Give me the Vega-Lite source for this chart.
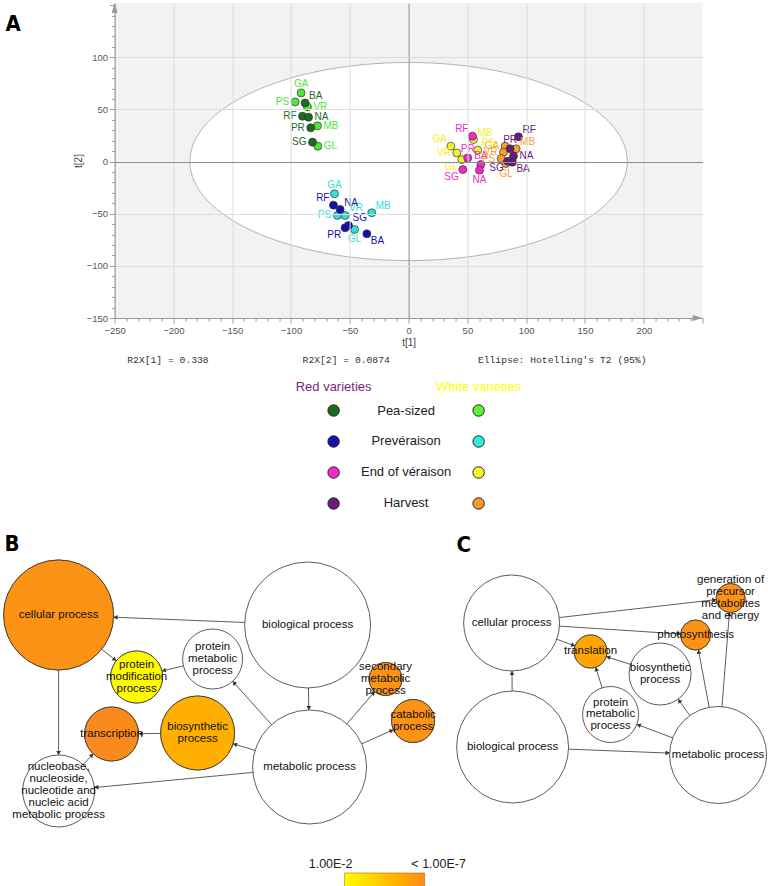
{
  "$schema": "https://vega.github.io/schema/vega-lite/v6.json",
  "autosize": {"type": "pad"},
  "padding": {"left": 1.6, "top": 0, "right": 0, "bottom": 0},
  "background": "white",
  "config": {"view": {"stroke": null}, "font": "Liberation Sans"},
  "datasets": {
    "scores": [
      {"variety": "GA", "type": "white", "stage": "Pea-sized", "group": "Pea-sized white", "t1": -91.4, "t2": 65.8, "pos": "t"},
      {"variety": "PS", "type": "white", "stage": "Pea-sized", "group": "Pea-sized white", "t1": -96.5, "t2": 57.2, "pos": "l"},
      {"variety": "VR", "type": "white", "stage": "Pea-sized", "group": "Pea-sized white", "t1": -86.0, "t2": 52.4, "pos": "r"},
      {"variety": "MB", "type": "white", "stage": "Pea-sized", "group": "Pea-sized white", "t1": -77.5, "t2": 34.2, "pos": "r"},
      {"variety": "GL", "type": "white", "stage": "Pea-sized", "group": "Pea-sized white", "t1": -77.2, "t2": 14.7, "pos": "r"},
      {"variety": "BA", "type": "red", "stage": "Pea-sized", "group": "Pea-sized red", "t1": -88.0, "t2": 56.2, "pos": "tr"},
      {"variety": "RF", "type": "red", "stage": "Pea-sized", "group": "Pea-sized red", "t1": -90.2, "t2": 43.5, "pos": "l"},
      {"variety": "NA", "type": "red", "stage": "Pea-sized", "group": "Pea-sized red", "t1": -85.1, "t2": 42.5, "pos": "r"},
      {"variety": "PR", "type": "red", "stage": "Pea-sized", "group": "Pea-sized red", "t1": -83.2, "t2": 32.3, "pos": "l"},
      {"variety": "SG", "type": "red", "stage": "Pea-sized", "group": "Pea-sized red", "t1": -81.7, "t2": 18.6, "pos": "l"},
      {"variety": "GA", "type": "white", "stage": "Prevéraison", "group": "Prevéraison white", "t1": -63.0, "t2": -30.9, "pos": "t"},
      {"variety": "VR", "type": "white", "stage": "Prevéraison", "group": "Prevéraison white", "t1": -54.0, "t2": -51.7, "pos": "tr"},
      {"variety": "PS", "type": "white", "stage": "Prevéraison", "group": "Prevéraison white", "t1": -60.5, "t2": -51.7, "pos": "l"},
      {"variety": "MB", "type": "white", "stage": "Prevéraison", "group": "Prevéraison white", "t1": -31.3, "t2": -49.1, "pos": "tr"},
      {"variety": "GL", "type": "white", "stage": "Prevéraison", "group": "Prevéraison white", "t1": -46.0, "t2": -65.1, "pos": "b"},
      {"variety": "RF", "type": "red", "stage": "Prevéraison", "group": "Prevéraison red", "t1": -63.9, "t2": -41.8, "pos": "tl"},
      {"variety": "NA", "type": "red", "stage": "Prevéraison", "group": "Prevéraison red", "t1": -58.2, "t2": -46.0, "pos": "tr"},
      {"variety": "SG", "type": "red", "stage": "Prevéraison", "group": "Prevéraison red", "t1": -51.1, "t2": -61.3, "pos": "tr"},
      {"variety": "PR", "type": "red", "stage": "Prevéraison", "group": "Prevéraison red", "t1": -54.0, "t2": -63.5, "pos": "bl"},
      {"variety": "BA", "type": "red", "stage": "Prevéraison", "group": "Prevéraison red", "t1": -35.5, "t2": -69.3, "pos": "br"},
      {"variety": "GA", "type": "white", "stage": "End of véraison", "group": "End of véraison white", "t1": 35.9, "t2": 14.7, "pos": "tl"},
      {"variety": "VR", "type": "white", "stage": "End of véraison", "group": "End of véraison white", "t1": 41.0, "t2": 8.3, "pos": "l"},
      {"variety": "GL", "type": "white", "stage": "End of véraison", "group": "End of véraison white", "t1": 45.2, "t2": 1.9, "pos": "bl"},
      {"variety": "MB", "type": "white", "stage": "End of véraison", "group": "End of véraison white", "t1": 55.2, "t2": 21.1, "pos": "tr"},
      {"variety": "PS", "type": "white", "stage": "End of véraison", "group": "End of véraison white", "t1": 58.8, "t2": 10.9, "pos": "tr"},
      {"variety": "RF", "type": "red", "stage": "End of véraison", "group": "End of véraison red", "t1": 54.3, "t2": 24.3, "pos": "tl"},
      {"variety": "PR", "type": "red", "stage": "End of véraison", "group": "End of véraison red", "t1": 50.3, "t2": 3.5, "pos": "t"},
      {"variety": "BA", "type": "red", "stage": "End of véraison", "group": "End of véraison red", "t1": 61.4, "t2": -2.9, "pos": "t"},
      {"variety": "NA", "type": "red", "stage": "End of véraison", "group": "End of véraison red", "t1": 60.3, "t2": -8.3, "pos": "b"},
      {"variety": "SG", "type": "red", "stage": "End of véraison", "group": "End of véraison red", "t1": 46.1, "t2": -7.7, "pos": "bl"},
      {"variety": "GA", "type": "white", "stage": "Harvest", "group": "Harvest white", "t1": 82.1, "t2": 14.7, "pos": "l"},
      {"variety": "VR", "type": "white", "stage": "Harvest", "group": "Harvest white", "t1": 80.7, "t2": 9.0, "pos": "l"},
      {"variety": "PS", "type": "white", "stage": "Harvest", "group": "Harvest white", "t1": 78.7, "t2": 2.9, "pos": "l"},
      {"variety": "MB", "type": "white", "stage": "Harvest", "group": "Harvest white", "t1": 91.4, "t2": 12.2, "pos": "tr"},
      {"variety": "GL", "type": "white", "stage": "Harvest", "group": "Harvest white", "t1": 82.9, "t2": -1.9, "pos": "b"},
      {"variety": "RF", "type": "red", "stage": "Harvest", "group": "Harvest red", "t1": 93.4, "t2": 23.7, "pos": "tr"},
      {"variety": "PR", "type": "red", "stage": "Harvest", "group": "Harvest red", "t1": 86.3, "t2": 12.2, "pos": "t"},
      {"variety": "NA", "type": "red", "stage": "Harvest", "group": "Harvest red", "t1": 89.2, "t2": 5.2, "pos": "r"},
      {"variety": "BA", "type": "red", "stage": "Harvest", "group": "Harvest red", "t1": 88.3, "t2": -0.6, "pos": "br"},
      {"variety": "SG", "type": "red", "stage": "Harvest", "group": "Harvest red", "t1": 84.3, "t2": 0.4, "pos": "bl"}
    ],
    "legendItems": [
      {"stage": "Pea-sized", "type": "red", "group": "Pea-sized red"},
      {"stage": "Pea-sized", "type": "white", "group": "Pea-sized white"},
      {"stage": "Prevéraison", "type": "red", "group": "Prevéraison red"},
      {"stage": "Prevéraison", "type": "white", "group": "Prevéraison white"},
      {"stage": "End of véraison", "type": "red", "group": "End of véraison red"},
      {"stage": "End of véraison", "type": "white", "group": "End of véraison white"},
      {"stage": "Harvest", "type": "red", "group": "Harvest red"},
      {"stage": "Harvest", "type": "white", "group": "Harvest white"}
    ],
    "nodes": [
      {"id": "B_cell", "panel": "B", "label": ["cellular process"], "x": 57, "y": 612, "r": 55, "neg_log10_p": 6.6},
      {"id": "B_pmod", "panel": "B", "label": ["protein", "modification", "process"], "x": 135, "y": 674, "r": 26, "neg_log10_p": 2.2},
      {"id": "B_pmet", "panel": "B", "label": ["protein", "metabolic", "process"], "x": 211, "y": 656, "r": 30, "neg_log10_p": null},
      {"id": "B_bio", "panel": "B", "label": ["biological process"], "x": 306, "y": 622, "r": 63, "neg_log10_p": null},
      {"id": "B_met", "panel": "B", "label": ["metabolic process"], "x": 308, "y": 764, "r": 57, "neg_log10_p": null},
      {"id": "B_sec", "panel": "B", "label": ["secondary", "metabolic", "process"], "x": 384, "y": 676, "r": 16.5, "neg_log10_p": 6.6},
      {"id": "B_cat", "panel": "B", "label": ["catabolic", "process"], "x": 411.5, "y": 718, "r": 21.5, "neg_log10_p": 6.6},
      {"id": "B_biosyn", "panel": "B", "label": ["biosynthetic", "process"], "x": 196, "y": 730, "r": 37, "neg_log10_p": 5.4},
      {"id": "B_trans", "panel": "B", "label": ["transcription"], "x": 110, "y": 731, "r": 27, "neg_log10_p": 7},
      {"id": "B_nuc", "panel": "B", "label": ["nucleobase,", "nucleoside,", "nucleotide and", "nucleic acid", "metabolic process"], "x": 57, "y": 788, "r": 36, "neg_log10_p": null},
      {"id": "C_cell", "panel": "C", "label": ["cellular process"], "x": 510, "y": 620, "r": 48, "neg_log10_p": null},
      {"id": "C_bio", "panel": "C", "label": ["biological process"], "x": 511, "y": 744, "r": 56, "neg_log10_p": null},
      {"id": "C_trl", "panel": "C", "label": ["translation"], "x": 589, "y": 648.5, "r": 16.5, "neg_log10_p": 5.8},
      {"id": "C_pmet", "panel": "C", "label": ["protein", "metabolic", "process"], "x": 609, "y": 711.5, "r": 28, "neg_log10_p": null},
      {"id": "C_biosyn", "panel": "C", "label": ["biosynthetic", "process"], "x": 658.5, "y": 671, "r": 31, "neg_log10_p": null},
      {"id": "C_photo", "panel": "C", "label": ["photosynthesis"], "x": 694, "y": 632, "r": 15, "neg_log10_p": 6.6},
      {"id": "C_gen", "panel": "C", "label": ["generation of", "precursor", "metabolites", "and energy"], "x": 729, "y": 595, "r": 14.5, "neg_log10_p": 6.6},
      {"id": "C_met", "panel": "C", "label": ["metabolic process"], "x": 716.5, "y": 752, "r": 48.5, "neg_log10_p": null}
    ],
    "edges": [
      {"source": "B_bio", "target": "B_cell", "ax": 113.9, "ay": 614.3, "angle": -87.7},
      {"source": "B_bio", "target": "B_met", "ax": 307.2, "ay": 705.0, "angle": 179.2},
      {"source": "B_cell", "target": "B_pmod", "ax": 113.1, "ay": 656.6, "angle": 128.5},
      {"source": "B_cell", "target": "B_nuc", "ax": 57, "ay": 750, "angle": 180},
      {"source": "B_pmet", "target": "B_pmod", "ax": 162.2, "ay": 667.5, "angle": -103.3},
      {"source": "B_met", "target": "B_pmet", "ax": 232.4, "ay": 679.8, "angle": -41.9},
      {"source": "B_met", "target": "B_biosyn", "ax": 233.3, "ay": 741.3, "angle": -73.1},
      {"source": "B_biosyn", "target": "B_trans", "ax": 139, "ay": 730.7, "angle": -90.7},
      {"source": "B_nuc", "target": "B_trans", "ax": 90.3, "ay": 752.2, "angle": 42.9},
      {"source": "B_met", "target": "B_nuc", "ax": 94.8, "ay": 784.4, "angle": -95.5},
      {"source": "B_met", "target": "B_sec", "ax": 371.9, "ay": 690.0, "angle": 40.8},
      {"source": "B_met", "target": "B_cat", "ax": 390.0, "ay": 727.5, "angle": 66.0},
      {"source": "C_bio", "target": "C_cell", "ax": 510.4, "ay": 670, "angle": -0.5},
      {"source": "C_bio", "target": "C_met", "ax": 666.0, "ay": 750.0, "angle": 92.2},
      {"source": "C_cell", "target": "C_trl", "ax": 571.6, "ay": 642.2, "angle": 109.8},
      {"source": "C_cell", "target": "C_gen", "ax": 712.6, "ay": 596.9, "angle": 83.5},
      {"source": "C_cell", "target": "C_photo", "ax": 677.0, "ay": 630.9, "angle": 93.7},
      {"source": "C_biosyn", "target": "C_trl", "ax": 606.6, "ay": 654.2, "angle": -72.1},
      {"source": "C_pmet", "target": "C_trl", "ax": 594.6, "ay": 666.1, "angle": -17.6},
      {"source": "C_met", "target": "C_pmet", "ax": 637.1, "ay": 722.1, "angle": -69.4},
      {"source": "C_met", "target": "C_biosyn", "ax": 677.7, "ay": 697.8, "angle": -35.6},
      {"source": "C_met", "target": "C_photo", "ax": 697.1, "ay": 648.7, "angle": -10.6},
      {"source": "C_met", "target": "C_gen", "ax": 727.7, "ay": 611.4, "angle": 4.6}
    ],
    "panels": [
      {"letter": "A", "x": 4, "y": 28},
      {"letter": "B", "x": 3, "y": 548},
      {"letter": "C", "x": 455, "y": 549}
    ]
  },
  "vconcat": [
    {
      "width": 588,
      "height": 315,
      "view": {"fill": "#f2f2f2", "stroke": null},
      "encoding": {
        "x": {
          "field": "t1", "type": "quantitative",
          "scale": {"domain": [-250, 250], "nice": false, "zero": false},
          "axis": {
            "title": "t[1]", "tickCount": 50,
            "labelExpr": "(datum.value % 50 === 0 && datum.value < 250) ? datum.label : ''",
            "labelFlush": false, "labelOverlap": false,
            "labelFont": "Liberation Sans", "labelFontSize": 9.5, "labelColor": "#555", "labelPadding": 2,
            "tickSize": {"condition": {"test": "datum.value % 50 === 0", "value": 5}, "value": 3},
            "tickColor": "#999", "domainColor": "#999", "domainWidth": 1.2,
            "grid": true,
            "gridOpacity": {"condition": {"test": "datum.value % 50 === 0 && datum.value > -250 && datum.value < 250", "value": 1}, "value": 0},
            "gridColor": {"condition": {"test": "datum.value === 0", "value": "#8c8c8c"}, "value": "#dcdcdc"},
            "zindex": 1,
            "titleFont": "Liberation Sans", "titleFontSize": 10, "titleFontWeight": "normal", "titleColor": "#444", "titlePadding": 3
          }
        },
        "y": {
          "field": "t2", "type": "quantitative",
          "scale": {"domain": [-150, 152], "nice": false, "zero": false},
          "axis": {
            "title": "t[2]", "tickCount": 30,
            "labelExpr": "(datum.value % 50 === 0 && datum.value < 150) ? datum.label : ''",
            "labelFlush": false, "labelOverlap": false,
            "labelFont": "Liberation Sans", "labelFontSize": 9.5, "labelColor": "#555", "labelPadding": 2,
            "tickSize": {"condition": {"test": "datum.value % 50 === 0", "value": 5}, "value": 3},
            "tickColor": "#999", "domainColor": "#999", "domainWidth": 1.2,
            "grid": true,
            "gridOpacity": {"condition": {"test": "datum.value % 50 === 0 && datum.value > -150 && datum.value < 150", "value": 1}, "value": 0},
            "gridColor": {"condition": {"test": "datum.value === 0", "value": "#8c8c8c"}, "value": "#dcdcdc"},
            "zindex": 1,
            "titleFont": "Liberation Sans", "titleFontSize": 10, "titleFontWeight": "normal", "titleColor": "#444", "titlePadding": 3
          }
        }
      },
      "layer": [
        {
          "data": {"values": [{"t1": 0, "t2": 0}]},
          "mark": {"type": "point", "shape": "M-1,0A1,0.453,0,1,1,1,0A1,0.453,0,1,1,-1,0Z", "size": 191300, "filled": true, "fill": "#ffffff", "stroke": "#b3b3b3", "strokeWidth": 1, "opacity": 1, "clip": true}
        },
        {
          "data": {"values": [{"t1": -250, "t2": 152, "dir": "up"}, {"t1": 250, "t2": -150, "dir": "right"}]},
          "mark": {"type": "point", "filled": true, "size": 400, "color": "#9a9a9a", "opacity": 1},
          "encoding": {
            "shape": {"field": "dir", "type": "nominal", "scale": {"domain": ["up", "right"], "range": ["M0,0L-0.3,1L0.3,1Z", "M0,0L-1,-0.3L-1,0.3Z"]}, "legend": null}
          }
        },
        {
          "data": {"name": "scores"},
          "mark": {"type": "circle", "size": 64, "stroke": "#333", "strokeWidth": 0.7, "opacity": 1},
          "encoding": {
            "color": {"field": "group", "type": "nominal", "scale": {"domain": ["Pea-sized red", "Pea-sized white", "Prevéraison red", "Prevéraison white", "End of véraison red", "End of véraison white", "Harvest red", "Harvest white"], "range": ["#1d6b1d", "#4de83a", "#1212aa", "#33e0d8", "#f02ac8", "#f5f02a", "#681a7a", "#f7a02a"]}, "legend": null}
          }
        },
        {
          "data": {"name": "scores"}, "transform": [{"filter": "datum.pos === 't'"}],
          "mark": {"type": "text", "align": "center", "baseline": "middle", "dy": -9, "fontSize": 10},
          "encoding": {"text": {"field": "variety"}, "color": {"field": "group", "type": "nominal", "legend": null}}
        },
        {
          "data": {"name": "scores"}, "transform": [{"filter": "datum.pos === 'b'"}],
          "mark": {"type": "text", "align": "center", "baseline": "middle", "dy": 10, "fontSize": 10},
          "encoding": {"text": {"field": "variety"}, "color": {"field": "group", "type": "nominal", "legend": null}}
        },
        {
          "data": {"name": "scores"}, "transform": [{"filter": "datum.pos === 'l'"}],
          "mark": {"type": "text", "align": "right", "baseline": "middle", "dx": -6, "fontSize": 10},
          "encoding": {"text": {"field": "variety"}, "color": {"field": "group", "type": "nominal", "legend": null}}
        },
        {
          "data": {"name": "scores"}, "transform": [{"filter": "datum.pos === 'r'"}],
          "mark": {"type": "text", "align": "left", "baseline": "middle", "dx": 6, "fontSize": 10},
          "encoding": {"text": {"field": "variety"}, "color": {"field": "group", "type": "nominal", "legend": null}}
        },
        {
          "data": {"name": "scores"}, "transform": [{"filter": "datum.pos === 'tl'"}],
          "mark": {"type": "text", "align": "right", "baseline": "middle", "dx": -4, "dy": -7, "fontSize": 10},
          "encoding": {"text": {"field": "variety"}, "color": {"field": "group", "type": "nominal", "legend": null}}
        },
        {
          "data": {"name": "scores"}, "transform": [{"filter": "datum.pos === 'tr'"}],
          "mark": {"type": "text", "align": "left", "baseline": "middle", "dx": 4, "dy": -7, "fontSize": 10},
          "encoding": {"text": {"field": "variety"}, "color": {"field": "group", "type": "nominal", "legend": null}}
        },
        {
          "data": {"name": "scores"}, "transform": [{"filter": "datum.pos === 'bl'"}],
          "mark": {"type": "text", "align": "right", "baseline": "middle", "dx": -4, "dy": 7, "fontSize": 10},
          "encoding": {"text": {"field": "variety"}, "color": {"field": "group", "type": "nominal", "legend": null}}
        },
        {
          "data": {"name": "scores"}, "transform": [{"filter": "datum.pos === 'br'"}],
          "mark": {"type": "text", "align": "left", "baseline": "middle", "dx": 4, "dy": 7, "fontSize": 10},
          "encoding": {"text": {"field": "variety"}, "color": {"field": "group", "type": "nominal", "legend": null}}
        }
      ]
    },
    {
      "width": 588,
      "height": 216,
      "resolve": {"scale": {"x": "independent", "color": "independent"}},
      "layer": [
        {
          "data": {"values": [{"item": "R2X[1] = 0.338"}, {"item": "R2X[2] = 0.0874"}, {"item": "Ellipse: Hotelling's T2 (95%)"}]},
          "mark": {"type": "text", "align": "left", "baseline": "middle", "font": "Liberation Mono", "fontSize": 9.7, "color": "#333", "dy": 11},
          "encoding": {
            "x": {"field": "item", "type": "nominal", "scale": {"type": "point", "domain": ["R2X[1] = 0.338", "R2X[2] = 0.0874", "Ellipse: Hotelling's T2 (95%)"], "padding": 0.6771, "align": 0.0535}, "axis": null},
            "y": {"datum": "r2x", "type": "nominal", "scale": {"type": "point", "domain": ["r2x", "header", "Pea-sized", "Prevéraison", "End of véraison", "Harvest"], "padding": 0.984}, "axis": null},
            "text": {"field": "item"}
          }
        },
        {
          "data": {"values": [{"column": "red", "heading": "Red varieties"}, {"column": "white", "heading": "White varieties"}]},
          "mark": {"type": "text", "align": "center", "baseline": "middle", "fontSize": 13, "dy": 7},
          "encoding": {
            "x": {"field": "column", "type": "nominal", "scale": {"type": "point", "domain": ["red", "label", "white"], "range": [219, 364], "padding": 0}, "axis": null},
            "y": {"datum": "header", "type": "nominal", "axis": null},
            "text": {"field": "heading"},
            "color": {"field": "column", "type": "nominal", "scale": {"domain": ["red", "white"], "range": ["#7f1f7f", "#ffff00"]}, "legend": null}
          }
        },
        {
          "data": {"name": "legendItems"},
          "mark": {"type": "circle", "size": 130, "stroke": "#222", "strokeWidth": 1, "opacity": 1},
          "encoding": {
            "x": {"field": "type", "type": "nominal", "scale": {"type": "point", "domain": ["red", "label", "white"], "range": [219, 364], "padding": 0}, "axis": null},
            "y": {"field": "stage", "type": "nominal", "axis": null},
            "color": {"field": "group", "type": "nominal", "scale": {"domain": ["Pea-sized red", "Pea-sized white", "Prevéraison red", "Prevéraison white", "End of véraison red", "End of véraison white", "Harvest red", "Harvest white"], "range": ["#1d6b1d", "#5ef03a", "#1212aa", "#33ecd8", "#f52acb", "#fafa2a", "#681a7a", "#f99a2a"]}, "legend": null}
          }
        },
        {
          "data": {"values": [{"stage": "Pea-sized"}, {"stage": "Prevéraison"}, {"stage": "End of véraison"}, {"stage": "Harvest"}]},
          "mark": {"type": "text", "align": "center", "baseline": "middle", "fontSize": 13, "color": "#222"},
          "encoding": {
            "x": {"datum": "label", "type": "nominal", "scale": {"type": "point", "domain": ["red", "label", "white"], "range": [219, 364], "padding": 0}, "axis": null},
            "y": {"field": "stage", "type": "nominal", "axis": null},
            "text": {"field": "stage"}
          }
        }
      ]
    },
    {
      "width": 588,
      "height": 300,
      "encoding": {
        "x": {"field": "x", "type": "quantitative", "scale": {"domain": [113, 701], "nice": false, "zero": false}, "axis": null},
        "y": {"field": "y", "type": "quantitative", "scale": {"domain": [531, 831], "nice": false, "zero": false, "reverse": true}, "axis": null}
      },
      "layer": [
        {
          "data": {"name": "edges"},
          "transform": [
            {"lookup": "source", "from": {"data": {"name": "nodes"}, "key": "id", "fields": ["x", "y"]}, "as": ["sx", "sy"]},
            {"lookup": "target", "from": {"data": {"name": "nodes"}, "key": "id", "fields": ["x", "y"]}, "as": ["tx", "ty"]}
          ],
          "mark": {"type": "rule", "color": "#333", "strokeWidth": 0.8},
          "encoding": {
            "x": {"field": "sx", "type": "quantitative", "axis": null},
            "y": {"field": "sy", "type": "quantitative", "axis": null},
            "x2": {"field": "tx"},
            "y2": {"field": "ty"}
          }
        },
        {
          "data": {"name": "nodes"},
          "mark": {"type": "circle", "fill": "#ffffff", "stroke": "#333", "strokeWidth": 0.8, "opacity": 1},
          "encoding": {
            "size": {"field": "r", "type": "quantitative", "scale": {"type": "pow", "exponent": 2, "domain": [0, 100], "range": [0, 40000]}, "legend": null}
          }
        },
        {
          "data": {"name": "nodes"},
          "transform": [{"filter": {"field": "neg_log10_p", "valid": true}}],
          "mark": {"type": "circle", "stroke": "#333", "strokeWidth": 0.8, "opacity": 1},
          "encoding": {
            "size": {"field": "r", "type": "quantitative", "scale": {"type": "pow", "exponent": 2, "domain": [0, 100], "range": [0, 40000]}, "legend": null},
            "fill": {
              "field": "neg_log10_p", "type": "quantitative",
              "scale": {"domain": [2, 7], "range": ["#ffff00", "#f98a1b"]},
              "legend": {
                "orient": "none", "legendX": 230, "legendY": 339, "direction": "horizontal",
                "gradientLength": 80, "gradientThickness": 14, "title": null, "values": [2.1, 6.9],
                "labelExpr": "datum.value < 4.5 ? '1.00E-2\u00a0\u00a0\u00a0\u00a0\u00a0\u00a0\u00a0\u00a0\u00a0\u200b' : '\u200b\u00a0\u00a0\u00a0\u00a0\u00a0\u00a0\u00a0\u00a0\u00a0< 1.00E-7'",
                "labelOffset": -29, "labelFontSize": 12.5, "labelFont": "Liberation Sans", "labelColor": "#222",
                "labelOverlap": false, "gradientStrokeColor": "#b06a10", "gradientStrokeWidth": 0.6
              }
            }
          }
        },
        {
          "data": {"name": "edges"},
          "mark": {"type": "point", "shape": "triangle-up", "filled": true, "color": "#333", "size": 22, "opacity": 1},
          "encoding": {
            "x": {"field": "ax", "type": "quantitative", "axis": null},
            "y": {"field": "ay", "type": "quantitative", "axis": null},
            "angle": {"field": "angle", "type": "quantitative", "scale": null}
          }
        },
        {
          "data": {"name": "nodes"}, "transform": [{"filter": "length(datum.label) === 1"}],
          "mark": {"type": "text", "fontSize": 11.5, "lineHeight": 11.7, "align": "center", "baseline": "middle", "color": "#111"},
          "encoding": {"text": {"field": "label"}}
        },
        {
          "data": {"name": "nodes"}, "transform": [{"filter": "length(datum.label) === 2"}],
          "mark": {"type": "text", "fontSize": 11.5, "lineHeight": 11.7, "align": "center", "baseline": "middle", "color": "#111", "dy": -5.85},
          "encoding": {"text": {"field": "label"}}
        },
        {
          "data": {"name": "nodes"}, "transform": [{"filter": "length(datum.label) === 3"}],
          "mark": {"type": "text", "fontSize": 11.5, "lineHeight": 11.7, "align": "center", "baseline": "middle", "color": "#111", "dy": -11.7},
          "encoding": {"text": {"field": "label"}}
        },
        {
          "data": {"name": "nodes"}, "transform": [{"filter": "length(datum.label) === 4"}],
          "mark": {"type": "text", "fontSize": 11.5, "lineHeight": 11.7, "align": "center", "baseline": "middle", "color": "#111", "dy": -17.55},
          "encoding": {"text": {"field": "label"}}
        },
        {
          "data": {"name": "nodes"}, "transform": [{"filter": "length(datum.label) === 5"}],
          "mark": {"type": "text", "fontSize": 11.5, "lineHeight": 12.2, "align": "center", "baseline": "middle", "color": "#111", "dy": -24.4},
          "encoding": {"text": {"field": "label"}}
        },
        {
          "data": {"name": "panels"},
          "mark": {"type": "text", "font": "DejaVu Sans Condensed", "fontWeight": "bold", "fontSize": 22, "align": "left", "baseline": "alphabetic", "color": "#000"},
          "encoding": {"text": {"field": "letter"}}
        }
      ]
    }
  ],
  "spacing": 0,
  "bounds": "flush",
  "resolve": {"scale": {"color": "independent", "fill": "independent", "size": "independent", "shape": "independent"}}
}
